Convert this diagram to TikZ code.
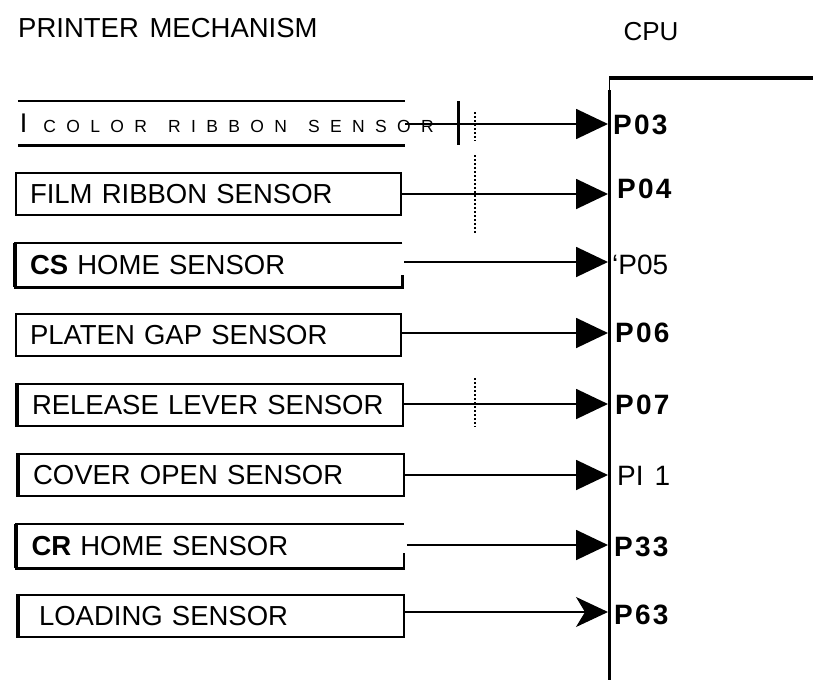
\documentclass[tikz,border=0pt]{standalone}
\usepackage{fontspec}
\setmainfont{Liberation Sans}[WordSpace=1.4]
\newfontfamily\spacedfont{Liberation Sans}[LetterSpace=59,WordSpace=1.4]
\newfontfamily\portfont{Liberation Sans}[LetterSpace=8]
\usetikzlibrary{arrows.meta,calc}
\tikzset{
  sensor/.style={draw,line width=2.5pt,minimum width=385pt,minimum height=42pt,
            text width=357pt,inner xsep=14pt,inner ysep=0pt,align=left,
            font=\fontsize{27.5}{30}\selectfont},
  opensensor/.style={sensor,draw=none},
  port/.style={anchor=west,inner sep=0pt,font=\fontsize{28}{30}\portfont\bfseries},
  portplain/.style={port,font=\fontsize{28}{30}\selectfont},
  wire/.style={-{Triangle[length=32pt,width=30pt]},line width=1.8pt},
  thinwire/.style={-{Stealth[length=32pt,width=30pt,inset=9pt]},line width=1.3pt},
  boxline/.style={line width=2.5pt},
  heavyside/.style={line width=4pt},
  cutline/.style={line width=1.2pt,dash pattern=on 2pt off 2pt},
}

\begin{document}
\begin{tikzpicture}[x=1pt,y=-1pt]
  \useasboundingbox (0,0) rectangle (813,680);
  % headings
  \node[anchor=west,inner sep=0pt,font=\fontsize{27.5}{30}\selectfont] (mech) at (18,28) {PRINTER MECHANISM};
  \node[inner sep=0pt,font=\fontsize{26}{28}\selectfont] (cpu) at (651,32) {CPU};
  % cpu block
  \draw[line width=3.5pt] (609,78) -- (813,78);
  \draw[line width=1pt] (609,78) -- (609,90);
  \draw[line width=3pt] (609,90) -- (609,680);
  % sensors
  \node[opensensor] (crs) at (211.5,123) {};
  \node[anchor=west,inner sep=0pt] (crstext) at ([xshift=2pt]crs.west)
    {\fontsize{27}{30}\selectfont I\hspace{16pt}\spacedfont\fontsize{17.5}{20}\selectfont COLOR RIBBON SENSOR};
  \draw[boxline] (crs.north west) -- (crs.north east);
  \draw[boxline] (crs.south west) -- (crs.south east);
  \node[sensor] (frs) at (208.5,194) {FILM RIBBON SENSOR};
  \node[opensensor,inner xsep=10pt] (csh) at (208.5,265) {\textbf{CS} HOME SENSOR};
  \draw[boxline] (csh.north east) -- (csh.north west) -- (csh.south west) -- (csh.south east) -- ++(0,-12);
  \draw[heavyside] (csh.north west) -- (csh.south west);
  \node[sensor] (pgs) at (208.5,335) {PLATEN GAP SENSOR};
  \node[sensor] (rls) at (210.5,405) {RELEASE LEVER SENSOR};
  \draw[heavyside] (rls.north west) -- (rls.south west);
  \node[sensor] (cos) at (211.5,475) {COVER OPEN SENSOR};
  \draw[heavyside] (cos.north west) -- (cos.south west);
  \node[opensensor,inner xsep=12pt] (crh) at (210,546) {\textbf{CR} HOME SENSOR};
  \draw[boxline] (crh.north east) -- (crh.north west) -- (crh.south west) -- (crh.south east) -- ++(0,-15);
  \draw[heavyside] (crh.north west) -- (crh.south west);
  \node[sensor,text width=345pt,inner xsep=20pt] (lds) at (211.5,616) {LOADING SENSOR};
  \draw[heavyside] (lds.north west) -- (lds.south west);
  % breaks on the lines
  \draw[line width=3pt] (458,101) -- (458,145);
  \draw[cutline] (475,112) -- (475,141);
  \draw[cutline] (475,155) -- (475,233);
  \draw[cutline] (475,378) -- (475,427);
  % cpu ports
  \coordinate (in03) at (608,124);
  \coordinate (in04) at (608,194);
  \coordinate (in05) at (608,262);
  \coordinate (in06) at (608,333);
  \coordinate (in07) at (608,404);
  \coordinate (in11) at (608,475);
  \coordinate (in33) at (608,545);
  \coordinate (in63) at (608,612);
  \node[port] (p03) at (613,125) {P03};
  \node[port] (p04) at (617,189) {P04};
  \node[portplain] (p05) at (612,265) {`P05};
  \node[port] (p06) at (615,333) {P06};
  \node[port] (p07) at (615,405) {P07};
  \node[portplain] (p11) at (617,476) {PI 1};
  \node[port] (p33) at (614,547) {P33};
  \node[port] (p63) at (614,615) {P63};
  % signal lines
  \draw[wire] (crs.east |- in03) -- (in03);
  \draw[wire] (frs.east |- in04) -- (in04);
  \draw[wire] ([xshift=2pt]csh.east |- in05) -- (in05);
  \draw[wire] (pgs.east |- in06) -- (in06);
  \draw[wire] (rls.east |- in07) -- (in07);
  \draw[wire] (cos.east |- in11) -- (in11);
  \draw[wire] ([xshift=3pt]crh.east |- in33) -- (in33);
  \draw[thinwire] (lds.east |- in63) -- (in63);
\end{tikzpicture}
\end{document}
